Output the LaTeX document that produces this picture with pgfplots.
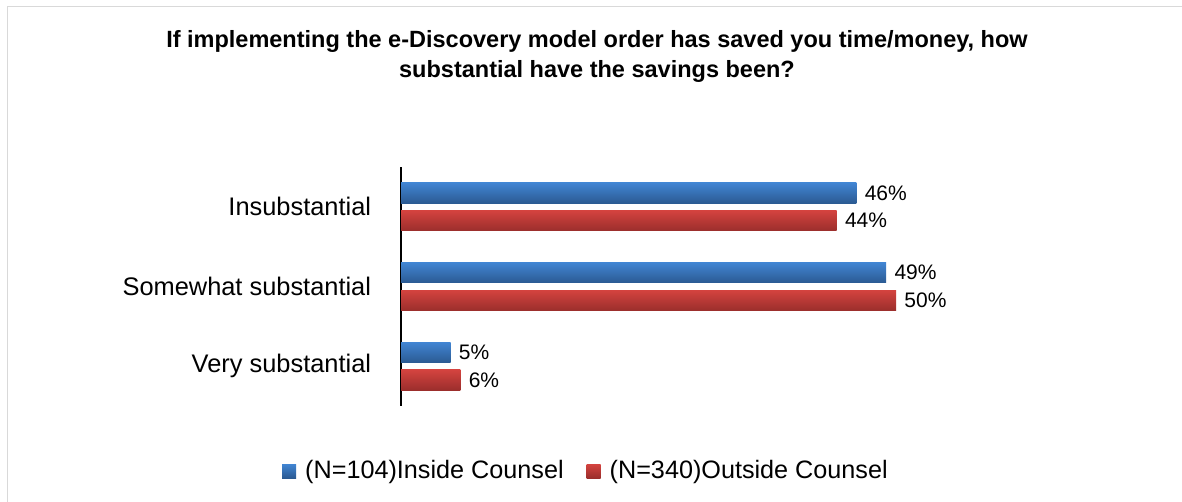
\documentclass[border=0pt]{standalone}
\usepackage{fontspec}
\setmainfont{Liberation Sans}
\usepackage{pgfplots}
\pgfplotsset{compat=1.18}
\definecolor{blueTop}{HTML}{4185D3}
\definecolor{blueBot}{HTML}{2B5A92}
\definecolor{redTop}{HTML}{D4433F}
\definecolor{redBot}{HTML}{9B2E2C}
\definecolor{frame}{HTML}{D9D9D9}
\begin{document}
\begin{tikzpicture}
\useasboundingbox (0,0) rectangle (591pt,-251pt);
\fill[white] (0,0) rectangle (591pt,-251pt);
\draw[frame, line width=0.8pt] (3.75pt,-251pt) -- (3.75pt,-3.25pt) -- (591pt,-3.25pt);
\node[anchor=base, font=\fontsize{11.75}{14}\selectfont\bfseries] at (298.5pt,-24pt) {If implementing the e-Discovery model order has saved you time/money, how};
\node[anchor=base, font=\fontsize{11.75}{14}\selectfont\bfseries] at (298.5pt,-39pt) {substantial have the savings been?};
\begin{axis}[
  at={(200.5pt,-83.5pt)}, anchor=north west,
  scale only axis,
  width=346.5pt, height=119.5pt,
  xmin=0, xmax=70,
  ymin=-0.5, ymax=2.5,
  y dir=reverse,
  enlarge x limits=false, enlarge y limits=false,
  axis x line=none,
  axis y line*=left,
  y axis line style={black, line width=0.75pt},
  xtick=\empty,
  ytick={0,1,2},
  yticklabels={Insubstantial, Somewhat substantial, Very substantial},
  ytick style={draw=none},
  yticklabel style={font=\fontsize{12.7}{15}\selectfont, inner xsep=0pt, xshift=-10.5pt},
  xbar,
  bar width=10.25pt,
  clip=false,
  /pgf/number format/assume math mode=true,
  nodes near coords={\pgfmathprintnumber{\pgfplotspointmeta}\%},
  every node near coord/.append style={font=\fontsize{10.5}{12}\selectfont, inner xsep=0pt, xshift=4pt, anchor=west, text=black},
  legend columns=2,
  legend style={at={(0.2655,-0.272)}, anchor=center, draw=none, fill=none, inner sep=0pt,
    font=\fontsize{12.6}{15}\selectfont,
    nodes={inner sep=0pt},
    /tikz/every odd column/.append style={column sep=4.5pt},
    /tikz/every even column/.append style={column sep=11.5pt}},
  legend image code/.code={\path[#1, draw=none] (0pt,-3.5pt) rectangle (7pt,3.5pt);},
]
% Inside Counsel (N=104)
\addplot[draw=none, top color=blueTop, bottom color=blueBot, bar shift=6.9pt] coordinates {(46,0)};
\addlegendentry{(N=104)Inside Counsel}
% Outside Counsel (N=340)
\addplot[draw=none, top color=redTop, bottom color=redBot, bar shift=-6.9pt] coordinates {(44,0)};
\addlegendentry{(N=340)Outside Counsel}
\addplot[forget plot, draw=none, top color=blueTop, bottom color=blueBot, bar shift=6.9pt] coordinates {(49,1)};
\addplot[forget plot, draw=none, top color=blueTop, bottom color=blueBot, bar shift=6.9pt] coordinates {(5,2)};
\addplot[forget plot, draw=none, top color=redTop, bottom color=redBot, bar shift=-6.9pt] coordinates {(50,1)};
\addplot[forget plot, draw=none, top color=redTop, bottom color=redBot, bar shift=-6.9pt] coordinates {(6,2)};
\end{axis}
\end{tikzpicture}
\end{document}
